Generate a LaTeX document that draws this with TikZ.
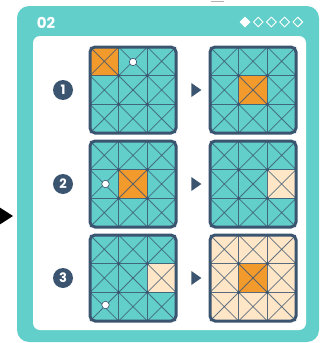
\documentclass[tikz,border=0pt]{standalone}
\usepackage{fontspec}
\setmainfont{Poppins}
\usetikzlibrary{shapes.geometric}
\definecolor{cardteal}{HTML}{62CFCA}
\definecolor{navy}{HTML}{3B5571}
\definecolor{tileorange}{HTML}{F39A2D}
\definecolor{tilecream}{HTML}{FFE6C6}

% one 3x3 board: #1,#2 top left corner, #3 base colour, #4 cells col/row/colour
\newcommand{\tileboard}[4]{%
    \begin{scope}[shift={(#1,#2)}]
    \begin{scope}
    \clip[rounded corners=5] (0,0) rectangle (86,86);
    \fill[#3] (0,0) rectangle (86,86);
    \foreach \c/\r/\col in {#4}
        \fill[\col] ({(\c-1)*86/3},{(\r-1)*86/3}) rectangle ++(86/3,86/3);
    \end{scope}
    \foreach \c in {0,1,2}
        \foreach \r in {0,1,2}{
            \draw[diag] ({\c*86/3},{\r*86/3}) -- ++(86/3,86/3);
            \draw[diag] ({(\c+1)*86/3},{\r*86/3}) -- ++(-86/3,86/3);
        }
    \foreach \k in {1,2}{
        \draw[inner] ({\k*86/3},0) -- ({\k*86/3},86);
        \draw[inner] (0,{\k*86/3}) -- (86,{\k*86/3});
    }
    \foreach \c in {1,2}
        \foreach \r in {1,2}
            \fill[navy] ({\c*86/3},{\r*86/3}) circle (1.8);
    \draw[navy, line width=3, rounded corners=5] (0,0) rectangle (86,86);
    \end{scope}}

\begin{document}
\begin{tikzpicture}[
        x=1pt, y=-1pt,
        diag/.style={navy, opacity=0.8, line width=0.8},
        inner/.style={navy, opacity=0.85, line width=1.4},
        stepnum/.style={circle, fill=navy, text=white, minimum size=20pt, inner sep=0pt,
            font=\fontsize{13}{13}\selectfont\bfseries},
        pointer/.style={isosceles triangle, fill=navy, minimum height=9pt, minimum width=14pt,
            inner sep=0pt, isosceles triangle apex angle=70},
        marker/.style={circle, fill=white, draw=navy, line width=0.6, minimum size=7.5pt, inner sep=0pt},
        level/.style={diamond, draw=white, line width=0.9, minimum size=10pt, inner sep=0pt, aspect=1},
    ]
    \useasboundingbox (0,0) rectangle (321,343);
    % bits of the neighbouring picture
    \fill[black] (-1,207) -- (13,216) -- (-1,225) -- cycle;
    \draw[black!30, line width=1] (211,1) -- (224,1);
    % card
    \fill[cardteal, rounded corners=12] (17,6) rectangle (319,342);
    \fill[white, rounded corners=7] (33,36) rectangle (306,330);
    \node[text=white, font=\fontsize{15}{15}\selectfont\bfseries] (title) at (46,23) {02};
    \node[level, fill=white] (lv1) at (245,22) {};
    \foreach \i in {2,...,5}
        \node[level] (lv\i) at ({245+(\i-1)*13.2},22) {};
    % rows
    \foreach \i/\y in {1/47, 2/141, 3/235}{
        \node[stepnum] (num\i) at (63,\y+43) {\i};
        \node[pointer] (arr\i) at (195,\y+43) {};
    }
    \tileboard{90}{47}{cardteal}{1/1/tileorange}
    \tileboard{210}{47}{cardteal}{2/2/tileorange}
    \tileboard{90}{141}{cardteal}{2/2/tileorange}
    \tileboard{210}{141}{cardteal}{3/2/tilecream}
    \tileboard{90}{235}{cardteal}{3/2/tilecream}
    \tileboard{210}{235}{tilecream}{2/2/tileorange}
    \node[marker] (dot1) at (133,62) {};
    \node[marker] (dot2) at (105.5,184) {};
    \node[marker] (dot3) at (105.5,305) {};
\end{tikzpicture}
\end{document}
